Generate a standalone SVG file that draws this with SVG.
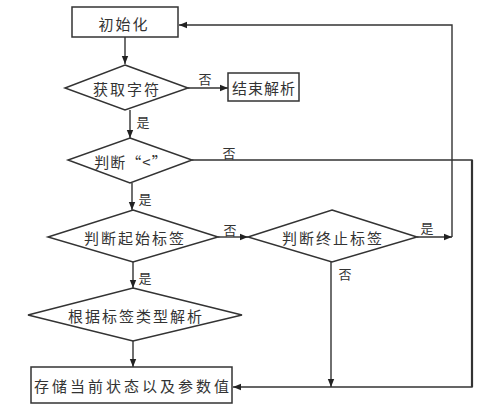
<svg xmlns="http://www.w3.org/2000/svg" width="500" height="413" viewBox="0 0 500 413">
<defs>
<marker id="ah" viewBox="0 0 10 10" refX="10" refY="5" markerWidth="8" markerHeight="8" markerUnits="userSpaceOnUse" orient="auto">
<path d="M0,1 L10,5 L0,9 z" fill="#222"/>
</marker>
</defs>
<style>
.s{fill:#fff;stroke:#333;stroke-width:1.5}
.c{fill:none;stroke:#333;stroke-width:1.4}
.t{font-family:"Noto Sans CJK SC","Noto Sans",sans-serif;font-size:15px;fill:#333;text-anchor:middle;dominant-baseline:central;letter-spacing:2px}
.l{font-family:"Noto Sans CJK SC","Noto Sans",sans-serif;font-size:13px;fill:#333;text-anchor:middle;dominant-baseline:central}
</style>
<rect width="500" height="413" fill="#fff"/>
<g id="connectors">
<path class="c" d="M452,237 L452,25 L179,25" marker-end="url(#ah)"/>
<path class="c" d="M125,37 L125,64" marker-end="url(#ah)"/>
<path class="c" d="M188,88 L228,88" marker-end="url(#ah)"/>
<path class="c" d="M130,110 L130,138" marker-end="url(#ah)"/>
<path class="c" d="M192,160 L472,160 L472,387 L233,387" marker-end="url(#ah)"/>
<path class="c" d="M472,160 L472,387" style="stroke-width:2.2"/>
<path class="c" d="M132,183 L132,210" marker-end="url(#ah)"/>
<path class="c" d="M218,237 L248,237" marker-end="url(#ah)"/>
<path class="c" d="M417,237 L452,237" marker-end="url(#ah)"/>
<path class="c" d="M331,262 L331,387" marker-end="url(#ah)"/>
<path class="c" d="M133,262 L133,288" marker-end="url(#ah)"/>
<path class="c" d="M133,341 L133,367" marker-end="url(#ah)"/>
<text class="l" x="205" y="78">否</text>
<text class="l" x="143" y="121">是</text>
<text class="l" x="229" y="152">否</text>
<text class="l" x="145" y="198">是</text>
<text class="l" x="230" y="229">否</text>
<text class="l" x="427" y="227">是</text>
<text class="l" x="345" y="273">否</text>
<text class="l" x="145" y="277">是</text>
</g>
<g id="init">
<rect class="s" x="72" y="7" width="106" height="30"/>
<text class="t" x="124" y="23">初始化</text>
</g>
<g id="getchar">
<polygon class="s" points="125,65 188,88 125,110 65,88"/>
<text class="t" x="127" y="88">获取字符</text>
</g>
<g id="end">
<rect class="s" x="228" y="73" width="71" height="28"/>
<text class="t" x="264" y="87" style="letter-spacing:1px">结束解析</text>
</g>
<g id="judgelt">
<polygon class="s" points="130,138 192,160 130,183 68,160"/>
<text class="t" x="131" y="161" style="letter-spacing:1px">判断“&lt;”</text>
</g>
<g id="judgestart">
<polygon class="s" points="133,210 218,237 133,262 48,237"/>
<text class="t" x="135" y="237">判断起始标签</text>
</g>
<g id="judgeend">
<polygon class="s" points="332,210 417,237 332,262 248,237"/>
<text class="t" x="333" y="237">判断终止标签</text>
</g>
<g id="parse">
<polygon class="s" points="133,288 242,315 133,341 28,315"/>
<text class="t" x="136" y="315">根据标签类型解析</text>
</g>
<g id="store">
<rect class="s" x="31" y="367" width="201" height="36"/>
<text class="t" x="133" y="385" style="letter-spacing:3px">存储当前状态以及参数值</text>
</g>
</svg>
